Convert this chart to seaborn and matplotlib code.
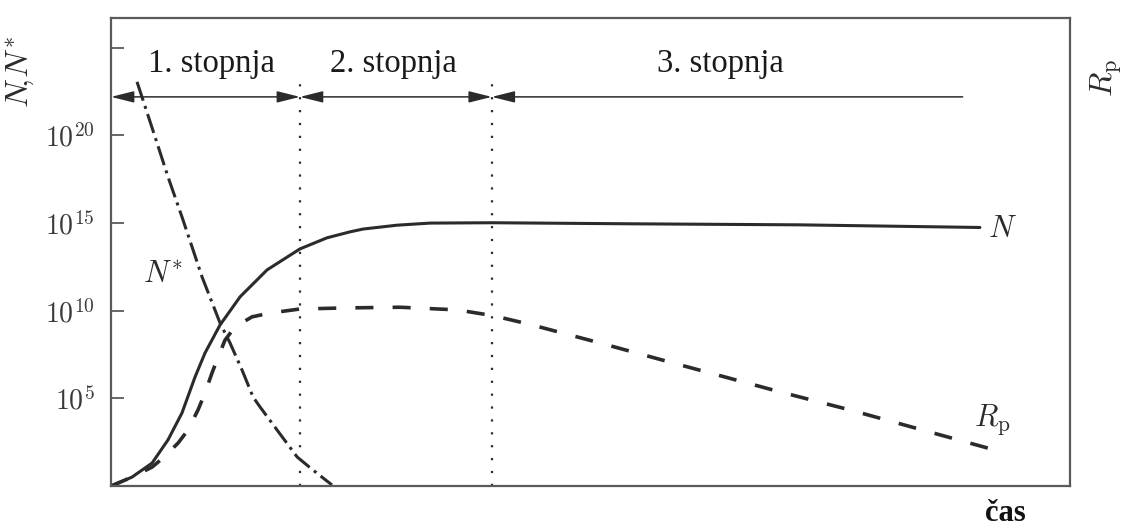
import numpy as np
import pandas as pd
import matplotlib
matplotlib.use("Agg")
import matplotlib.pyplot as plt
import seaborn as sns

# ---- data (time in arbitrary units 0..100, values as log10 exponents) ----
n_time = [0, 2.19, 4.28, 5.94, 7.40, 8.76, 9.80, 11.37, 13.45, 16.27, 19.71, 22.52,
          24.92, 26.28, 29.82, 33.26, 39.73, 54.1, 71.8, 90.6]
n_log = [0, 0.51, 1.31, 2.63, 4.17, 6.22, 7.59, 9.19, 10.79, 12.33, 13.53, 14.16,
         14.50, 14.66, 14.88, 15.00, 15.02, 14.96, 14.90, 14.75]

nstar_time = [2.71, 4.59, 5.94, 7.40, 8.45, 9.49, 11.37, 12.41, 13.66, 14.81, 15.54,
              17.31, 19.40, 21.06, 23.04]
nstar_log = [23.06, 19.92, 17.64, 15.35, 13.64, 11.93, 9.30, 8.16, 6.62, 5.08, 4.51,
             3.20, 1.66, 0.91, 0.06]

rp_time = [0, 2.19, 4.28, 5.42, 6.99, 8.03, 9.07, 9.80, 10.53, 11.05, 11.89, 12.93,
           14.70, 16.58, 19.71, 24.4, 30.1, 36.08, 39.83, 43.69, 47.13, 50.99, 58.60,
           66.32, 69.76, 77.06, 92.91]
rp_log = [0, 0.51, 1.08, 1.60, 2.45, 3.20, 4.34, 5.31, 6.45, 7.19, 8.33, 9.08,
          9.65, 9.87, 10.10, 10.16, 10.20, 10.05, 9.72, 9.22, 8.72, 8.16, 7.02,
          5.88, 5.37, 4.34, 1.94]

stage_bounds = [0, 19.7, 39.7, 88.8]
stage_labels = ["1. stopnja", "2. stopnja", "3. stopnja"]
ytick_exp = [5, 10, 15, 20, 25]
ytick_labels = [r"$10^{5}$", r"$10^{10}$", r"$10^{15}$", r"$10^{20}$", ""]

# ---- style ----
sns.set_style("white")
plt.rcParams["mathtext.fontset"] = "cm"
plt.rcParams["font.family"] = ["Liberation Serif", "DejaVu Serif"]

ink = "#2b2b2b"
frame = "#5a5a5a"

fig = plt.figure(figsize=(11.26, 5.28), dpi=100)
ax = fig.add_axes([0.0986, 0.0795, 0.8517, 0.8864])

df_n = pd.DataFrame({"t": n_time, "v": np.power(10.0, n_log)})
df_ns = pd.DataFrame({"t": nstar_time, "v": np.power(10.0, nstar_log)})
df_rp = pd.DataFrame({"t": rp_time, "v": np.power(10.0, rp_log)})

sns.lineplot(data=df_n, x="t", y="v", ax=ax, color=ink, lw=2.2, sort=False)
sns.lineplot(data=df_ns, x="t", y="v", ax=ax, color=ink, lw=2.2, sort=False)
ax.lines[-1].set_dashes([6.5, 1.8, 1.0, 1.8])
sns.lineplot(data=df_rp, x="t", y="v", ax=ax, color=ink, lw=2.6, sort=False)
ax.lines[-1].set_dashes([5.0, 5.3])

ax.set_yscale("log")
ax.set_xlim(0, 100)
ax.set_ylim(1, 10 ** 26.7)

# stage boundaries (dotted)
for xb in stage_bounds[1:3]:
    ax.plot([xb, xb], [1, 10 ** 23.3], color=ink, lw=1.6, ls=(0, (1, 4.8)))

# stage arrows
ya = 10 ** 22.2
arrow_kw = dict(color=ink, lw=1.1, shrinkA=0, shrinkB=0, mutation_scale=10)
style2 = "<|-|>,head_length=1.4,head_width=0.35"
style1 = "-|>,head_length=1.4,head_width=0.35"
ax.annotate("", xy=(stage_bounds[0], ya), xytext=(stage_bounds[1], ya),
            arrowprops=dict(arrowstyle=style2, **arrow_kw))
ax.annotate("", xy=(stage_bounds[1], ya), xytext=(stage_bounds[2], ya),
            arrowprops=dict(arrowstyle=style2, **arrow_kw))
ax.annotate("", xy=(stage_bounds[2], ya), xytext=(stage_bounds[3], ya),
            arrowprops=dict(arrowstyle=style1, **arrow_kw))

stage_x = [10.5, 29.4, 63.5]
for xs, lab in zip(stage_x, stage_labels):
    ax.text(xs, 10 ** 24.1, lab, ha="center", va="center", fontsize=23.5,
            color="#1a1a1a")

# curve labels
ax.text(93.0, 10 ** 14.65, r"$N$", fontsize=22, ha="center", va="center", color=ink)
ax.text(5.4, 10 ** 12.0, r"$N^{*}$", fontsize=22, ha="center", va="center", color=ink)
ax.text(91.9, 10 ** 3.8, r"$R_{\mathrm{p}}$", fontsize=22, ha="center", va="center", color=ink)

# axes styling
for s in ax.spines.values():
    s.set_color(frame)
    s.set_linewidth(1.6)
ax.set_yticks([10.0 ** e for e in ytick_exp])
ax.set_yticklabels(ytick_labels)
ax.yaxis.set_minor_locator(matplotlib.ticker.NullLocator())
ax.set_xticks([])
ax.tick_params(axis="y", direction="in", length=9.5, width=1.3, color=frame,
               labelsize=20, labelcolor="#3a3a3a", pad=12, left=True)
ax.set_xlabel("")
ax.set_ylabel(r"$N\!,\!N^{*}$", fontsize=23, rotation=90, color=ink)
ax.yaxis.set_label_coords(-0.077, 0.885)

ax.text(1.0376, 0.872, r"$R_{\mathrm{p}}$", transform=ax.transAxes, rotation=90,
        fontsize=23, ha="center", va="center", color=ink)
ax.text(0.933, -0.058, "čas", transform=ax.transAxes, fontsize=22,
        fontweight="bold", ha="center", va="center", color="#111111")

fig.savefig("out.png", dpi=100)
